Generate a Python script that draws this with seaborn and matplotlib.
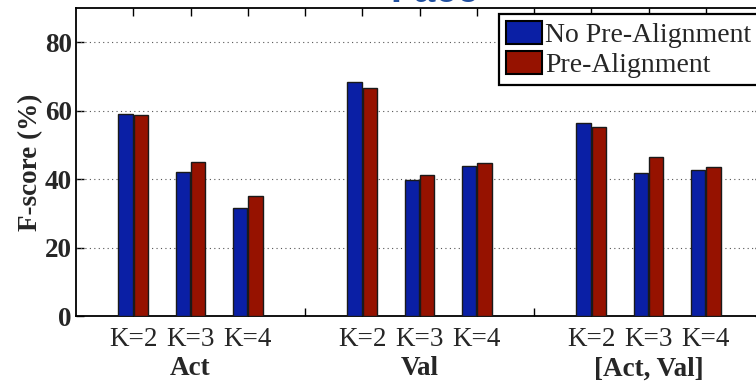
import matplotlib
matplotlib.use("Agg")
import matplotlib.pyplot as plt
import seaborn as sns
import pandas as pd

# F-score (%) per feature set and number of clusters K
groups = ["Act", "Val", "[Act, Val]"]
k_labels = ["K=2", "K=3", "K=4"]
methods = ["No Pre-Alignment", "Pre-Alignment"]
no_prealign = [58.9, 42.0, 31.5, 68.4, 39.8, 43.9, 56.4, 41.7, 42.8]
prealign = [58.6, 45.0, 35.1, 66.7, 41.1, 44.7, 55.3, 46.6, 43.6]
colors = ["#0A1FA5", "#961200"]

rows = []
for gi, g in enumerate(groups):
    for ki, k in enumerate(k_labels):
        pos = 1 + 4 * gi + ki
        idx = gi * 3 + ki
        rows.append({"pos": pos, "score": no_prealign[idx], "method": methods[0]})
        rows.append({"pos": pos, "score": prealign[idx], "method": methods[1]})
df = pd.DataFrame(rows)

sns.set_style("white")
plt.rcParams["font.family"] = ["Liberation Serif", "DejaVu Serif"]

fig = plt.figure(figsize=(7.56, 3.81), dpi=100)
ax = fig.add_axes([76 / 756, 1 - 316 / 381, 687 / 756, 308 / 381])

sns.barplot(data=df, x="pos", y="score", hue="method", native_scale=True,
            palette=colors, saturation=1, width=0.54, gap=0.08,
            edgecolor="#1a1a1a", linewidth=1.0, errorbar=None, ax=ax,
            zorder=3)

ax.set_xlim(0, 12)
ax.set_ylim(0, 90)

tick_pos = list(range(1, 12))
tick_txt = []
for p in tick_pos:
    tick_txt.append("" if p % 4 == 0 else k_labels[(p - 1) % 4])
ax.set_xticks(tick_pos)
ax.set_xticklabels(tick_txt, fontsize=19.5)
ax.set_yticks([0, 20, 40, 60, 80])
ax.set_yticklabels(["0", "20", "40", "60", "80"], fontsize=19.5,
                   fontweight="bold")
ax.tick_params(axis="both", direction="in", length=6, width=1.0,
               top=True, right=True, bottom=True, left=True, color="black")
ax.tick_params(axis="x", pad=8)
ax.tick_params(axis="y", pad=3)

for y in [20, 40, 60, 80]:
    ax.axhline(y, color="#555555", linestyle=(0, (1, 3)), linewidth=0.8,
               zorder=1)

for s in ax.spines.values():
    s.set_color("black")
    s.set_linewidth(1.3)

ax.set_xlabel("")
ax.set_ylabel("F-score (%)", fontsize=19.5, fontweight="bold", labelpad=1)

for gi, g in enumerate(groups):
    ax.text(2 + 4 * gi, -0.172, g, transform=ax.get_xaxis_transform(),
            ha="center", va="center", fontsize=19.5, fontweight="bold")

leg = ax.legend(loc="upper left", fontsize=20, frameon=True,
                fancybox=False, edgecolor="black", framealpha=1,
                handlelength=1.3, handleheight=0.9, handletextpad=0.12,
                labelspacing=0.1, borderpad=0.25, borderaxespad=0)
leg.set_bbox_to_anchor((499 / 756, 1 - 14 / 381), transform=fig.transFigure)
leg.get_frame().set_linewidth(1.6)
for h in leg.legend_handles:
    h.set_edgecolor("black")
    h.set_linewidth(1.5)

fig.text(435 / 756, 1 - 1.5 / 381, "Face", ha="center", va="baseline",
         fontsize=28, fontweight="bold", color="#1F4FA0",
         family=["Liberation Sans", "DejaVu Sans"])

fig.savefig("out.png", dpi=100)
